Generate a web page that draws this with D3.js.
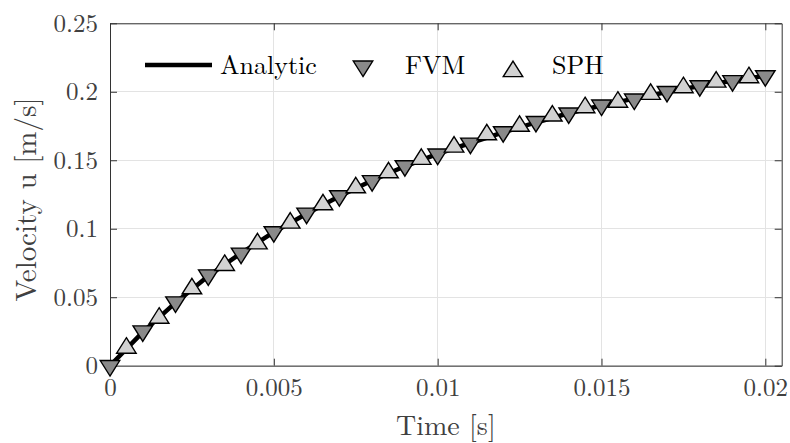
<!DOCTYPE html>
<html>
<head>
<meta charset="utf-8">
<script src="https://cdn.jsdelivr.net/npm/d3@7"></script>
<style>
  html, body { margin: 0; padding: 0; background: #fff; }
  svg { display: block; }
  text { font-family: "CMU Serif", "Latin Modern Roman", "Liberation Serif", "DejaVu Serif", serif; }
</style>
</head>
<body>
<svg id="chart" width="790" height="443"></svg>
<script>
// ---- data ----
const analyticTime = [0, 0.001, 0.002, 0.003, 0.004, 0.005, 0.006, 0.007, 0.008, 0.009, 0.010,
                      0.011, 0.012, 0.013, 0.014, 0.015, 0.016, 0.017, 0.018, 0.019, 0.020];
const analyticVel  = [0, 0.0245, 0.0460, 0.0655, 0.0822, 0.0975, 0.1110, 0.1237, 0.1352, 0.1456, 0.1546,
                      0.1626, 0.1703, 0.1776, 0.1843, 0.1900, 0.1950, 0.1998, 0.2042, 0.2080, 0.2116];

const fvmTime = [0, 0.001, 0.002, 0.003, 0.004, 0.005, 0.006, 0.007, 0.008, 0.009, 0.010,
                 0.011, 0.012, 0.013, 0.014, 0.015, 0.016, 0.017, 0.018, 0.019, 0.020];
const fvmVel  = [0, 0.0253, 0.0465, 0.0662, 0.0821, 0.0977, 0.1113, 0.1240, 0.1350, 0.1459, 0.1544,
                 0.1624, 0.1707, 0.1782, 0.1844, 0.1902, 0.1946, 0.2001, 0.2043, 0.2080, 0.2116];

const sphTime = [0.0005, 0.0015, 0.0025, 0.0035, 0.0045, 0.0055, 0.0065, 0.0075, 0.0085, 0.0095,
                 0.0105, 0.0115, 0.0125, 0.0135, 0.0145, 0.0155, 0.0165, 0.0175, 0.0185, 0.0195];
const sphVel  = [0.0129, 0.0348, 0.0563, 0.0733, 0.0891, 0.1042, 0.1176, 0.1300, 0.1410, 0.1508,
                 0.1597, 0.1687, 0.1749, 0.1824, 0.1885, 0.1925, 0.1982, 0.2031, 0.2072, 0.2104];

const xTicks = [0, 0.005, 0.01, 0.015, 0.02];
const xTickLabels = ["0", "0.005", "0.01", "0.015", "0.02"];
const yTicks = [0, 0.05, 0.1, 0.15, 0.2, 0.25];
const yTickLabels = ["0", "0.05", "0.1", "0.15", "0.2", "0.25"];

const seriesNames = ["Analytic", "FVM", "SPH"];
const xLabel = "Time [s]";
const yLabel = "Velocity u [m/s]";

// ---- layout ----
const L = 110, R = 781.7, T = 23.3, B = 365.7;
const svg = d3.select("#chart");

const x = d3.scaleLinear().domain([0, 0.0205]).range([L, R]);
const y = d3.scaleLinear().domain([0, 0.25]).range([B, T]);

const axisColor = "#333333";
const labelColor = "#404040";

// grid
const grid = svg.append("g");
grid.selectAll("line.gx").data(xTicks).enter().append("line")
  .attr("x1", d => x(d)).attr("x2", d => x(d)).attr("y1", T).attr("y2", B)
  .attr("stroke", "#e3e3e3").attr("stroke-width", 1).attr("shape-rendering", "crispEdges");
grid.selectAll("line.gy").data(yTicks).enter().append("line")
  .attr("x1", L).attr("x2", R).attr("y1", d => y(d)).attr("y2", d => y(d))
  .attr("stroke", "#e3e3e3").attr("stroke-width", 1).attr("shape-rendering", "crispEdges");

// axes
function styleAxis(g) {
  g.select(".domain").attr("stroke", axisColor).attr("stroke-width", 1);
  g.selectAll(".tick line").attr("stroke", axisColor).attr("stroke-width", 1);
  g.selectAll(".tick text").attr("fill", labelColor).attr("font-size", 25);
}
const xAxis = svg.append("g").attr("transform", `translate(0,${B})`)
  .call(d3.axisBottom(x).tickValues(xTicks).tickFormat((d, i) => xTickLabels[i])
    .tickSizeInner(-7).tickSizeOuter(0).tickPadding(12.5));
styleAxis(xAxis);
const xAxisTop = svg.append("g").attr("transform", `translate(0,${T})`)
  .call(d3.axisTop(x).tickValues(xTicks).tickFormat("").tickSizeInner(-7).tickSizeOuter(0));
styleAxis(xAxisTop);
const yAxis = svg.append("g").attr("transform", `translate(${L},0)`)
  .call(d3.axisLeft(y).tickValues(yTicks).tickFormat((d, i) => yTickLabels[i])
    .tickSizeInner(-7).tickSizeOuter(0).tickPadding(12));
styleAxis(yAxis);
const yAxisRight = svg.append("g").attr("transform", `translate(${R},0)`)
  .call(d3.axisRight(y).tickValues(yTicks).tickFormat("").tickSizeInner(-7).tickSizeOuter(0));
styleAxis(yAxisRight);
svg.selectAll(".domain").attr("fill", "none");

// axis labels
svg.append("text").attr("x", (L + R) / 2).attr("y", 435)
  .attr("text-anchor", "middle").attr("font-size", 28).attr("fill", labelColor).text(xLabel);
svg.append("text").attr("transform", `translate(36,${(T + B) / 2 + 5}) rotate(-90)`)
  .attr("text-anchor", "middle").attr("font-size", 29).attr("fill", labelColor).text(yLabel);

// triangles (centroid-centred), w = width, h = height
function triPath(dir, w, h) {
  if (dir === "up") {
    return `M0,${-2 * h / 3}L${w / 2},${h / 3}L${-w / 2},${h / 3}Z`;
  }
  return `M0,${2 * h / 3}L${w / 2},${-h / 3}L${-w / 2},${-h / 3}Z`;
}
const TW = 19.5, TH = 15.5;
const fvmFill = "#8a8a8a", sphFill = "#d2d2d2";

// analytic line
const line = d3.line().x((d, i) => x(analyticTime[i])).y(d => y(d));
svg.append("path").datum(analyticVel).attr("d", line)
  .attr("fill", "none").attr("stroke", "#000").attr("stroke-width", 4.5).attr("stroke-linejoin", "round");

// FVM markers
svg.append("g").selectAll("path").data(fvmVel).enter().append("path")
  .attr("transform", (d, i) => `translate(${x(fvmTime[i])},${y(d)})`)
  .attr("d", triPath("down", TW, TH))
  .attr("fill", fvmFill).attr("stroke", "#000").attr("stroke-width", 1.4).attr("stroke-linejoin", "miter");

// SPH markers
svg.append("g").selectAll("path").data(sphVel).enter().append("path")
  .attr("transform", (d, i) => `translate(${x(sphTime[i])},${y(d)})`)
  .attr("d", triPath("up", TW, TH))
  .attr("fill", sphFill).attr("stroke", "#000").attr("stroke-width", 1.4).attr("stroke-linejoin", "miter");

// legend
const leg = svg.append("g");
leg.append("line").attr("x1", 145).attr("x2", 212).attr("y1", 65).attr("y2", 65)
  .attr("stroke", "#000").attr("stroke-width", 4.5);
leg.append("text").attr("x", 220).attr("y", 74).attr("font-size", 26).attr("fill", "#000").text(seriesNames[0]);
leg.append("path").attr("transform", "translate(363,66.2)").attr("d", triPath("down", TW, TH))
  .attr("fill", fvmFill).attr("stroke", "#000").attr("stroke-width", 1.4);
leg.append("text").attr("x", 405).attr("y", 74).attr("font-size", 26).attr("fill", "#000").text(seriesNames[1]);
leg.append("path").attr("transform", "translate(513,71.5)").attr("d", triPath("up", TW, TH))
  .attr("fill", sphFill).attr("stroke", "#000").attr("stroke-width", 1.4);
leg.append("text").attr("x", 552).attr("y", 74).attr("font-size", 26).attr("fill", "#000").text(seriesNames[2]);
</script>
</body>
</html>
